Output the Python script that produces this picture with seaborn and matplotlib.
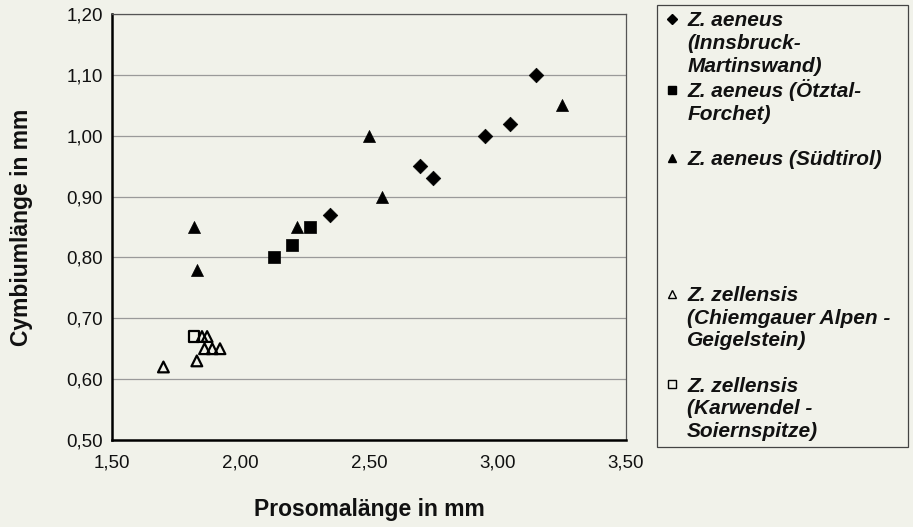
import matplotlib
matplotlib.use("Agg")
import matplotlib.pyplot as plt
from matplotlib.lines import Line2D
import seaborn as sns

# Prosomalänge (x) and Cymbiumlänge (y) per population, in mm
innsbruck_x = [3.15, 3.05, 2.95, 2.70, 2.75, 2.35]
innsbruck_y = [1.10, 1.02, 1.00, 0.95, 0.93, 0.87]

oetztal_x = [2.27, 2.20, 2.13]
oetztal_y = [0.85, 0.82, 0.80]

suedtirol_x = [3.25, 2.50, 2.55, 2.22, 1.82, 1.83]
suedtirol_y = [1.05, 1.00, 0.90, 0.85, 0.85, 0.78]

chiemgau_x = [1.70, 1.83, 1.86, 1.89, 1.92, 1.85, 1.87]
chiemgau_y = [0.62, 0.63, 0.65, 0.65, 0.65, 0.67, 0.67]

karwendel_x = [1.82]
karwendel_y = [0.67]

x_ticks = [1.50, 2.00, 2.50, 3.00, 3.50]
x_tick_labels = ["1,50", "2,00", "2,50", "3,00", "3,50"]
y_ticks = [0.50, 0.60, 0.70, 0.80, 0.90, 1.00, 1.10, 1.20]
y_tick_labels = ["0,50", "0,60", "0,70", "0,80", "0,90", "1,00", "1,10", "1,20"]

# legend rows: one row per text line, marker only on the first line of an entry
legend_rows = [
    ("D", True, "Z. aeneus"),
    (None, None, "(Innsbruck-"),
    (None, None, "Martinswand)"),
    ("s", True, "Z. aeneus (Ötztal-"),
    (None, None, "Forchet)"),
    (None, None, ""),
    ("^", True, "Z. aeneus (Südtirol)"),
    (None, None, ""),
    (None, None, ""),
    (None, None, ""),
    (None, None, ""),
    (None, None, ""),
    ("^", False, "Z. zellensis"),
    (None, None, "(Chiemgauer Alpen -"),
    (None, None, "Geigelstein)"),
    (None, None, ""),
    ("s", False, "Z. zellensis"),
    (None, None, "(Karwendel -"),
    (None, None, "Soiernspitze)"),
]

bg = "#f1f2ea"
ink = "#111111"

sns.set_theme(style="white")
plt.rcParams["font.family"] = ["Liberation Sans", "DejaVu Sans"]

fig = plt.figure(figsize=(9.13, 5.27), dpi=100, facecolor=bg)
ax = fig.add_axes([0.1227, 0.1651, 0.5630, 0.8083])
ax.set_facecolor(bg)

sns.scatterplot(x=innsbruck_x, y=innsbruck_y, marker="D", s=55,
                color="black", edgecolor="black", linewidth=0.5, ax=ax, zorder=3)
sns.scatterplot(x=oetztal_x, y=oetztal_y, marker="s", s=80,
                color="black", edgecolor="black", linewidth=0.5, ax=ax, zorder=3)
sns.scatterplot(x=suedtirol_x, y=suedtirol_y, marker="^", s=75,
                color="black", edgecolor="black", linewidth=0.5, ax=ax, zorder=3)
sns.scatterplot(x=chiemgau_x, y=chiemgau_y, marker="^", s=60,
                facecolor="none", edgecolor="black", linewidth=1.6, ax=ax, zorder=3)
sns.scatterplot(x=karwendel_x, y=karwendel_y, marker="s", s=55,
                facecolor="none", edgecolor="black", linewidth=1.6, ax=ax, zorder=3)

ax.set_xlim(1.5, 3.5)
ax.set_ylim(0.5, 1.2)
ax.set_xticks(x_ticks)
ax.set_xticklabels(x_tick_labels)
ax.set_yticks(y_ticks)
ax.set_yticklabels(y_tick_labels)
ax.tick_params(axis="both", labelsize=13.5, colors=ink, direction="out",
               length=4.5, width=1.3)
ax.tick_params(axis="x", pad=6)
ax.tick_params(axis="y", pad=2)

ax.yaxis.grid(True, color="#9a9a9a", linewidth=0.9)
ax.xaxis.grid(False)
ax.set_axisbelow(True)

for side in ["left", "bottom"]:
    ax.spines[side].set_color("black")
    ax.spines[side].set_linewidth(1.8)
for side in ["top", "right"]:
    ax.spines[side].set_color("#555555")
    ax.spines[side].set_linewidth(0.9)

ax.set_xlabel("Prosomalänge in mm", fontsize=16.5, fontweight="bold",
              color=ink, labelpad=19)
ax.set_ylabel("Cymbiumlänge in mm", fontsize=16.5, fontweight="bold",
              color=ink, labelpad=24)

handles, labels = [], []
for marker, filled, text in legend_rows:
    if marker is None:
        h = Line2D([], [], linestyle="none")
    else:
        h = Line2D([], [], linestyle="none", marker=marker,
                   markersize=5 if marker == "D" else 6,
                   markerfacecolor="black" if filled else "none",
                   markeredgecolor="black", markeredgewidth=1.0)
    handles.append(h)
    labels.append(text)

leg = fig.legend(handles, labels, loc="upper left",
                 bbox_to_anchor=(0.7196, 0.1423, 0.2749, 0.8482),
                 mode="expand", borderaxespad=0, frameon=True, fancybox=False,
                 framealpha=1, facecolor=bg, edgecolor="#444444",
                 prop={"size": 15, "weight": "bold", "style": "italic"},
                 handlelength=0.8, handletextpad=0.35, borderpad=0.3,
                 labelspacing=0.175)
leg.get_frame().set_linewidth(0.9)
for t in leg.get_texts():
    t.set_color(ink)

fig.savefig("out.png", dpi=100, facecolor=bg)
